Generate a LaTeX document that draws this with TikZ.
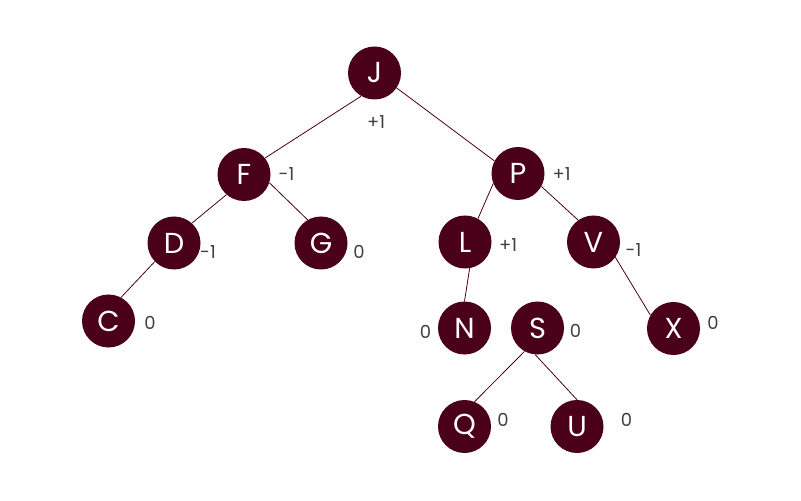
\documentclass[tikz,border=0pt]{standalone}
\usepackage{fontspec}
\setmainfont{Poppins}
\definecolor{maroon}{HTML}{4A0018}
\begin{document}
\begin{tikzpicture}[x=1bp,y=-1bp,
  vertex/.style={circle,fill=maroon,text=white,minimum size=53bp,inner sep=0pt,font=\fontsize{29}{29}\selectfont},
  edge/.style={maroon,line width=0.8bp},
  bal/.style={font=\fontsize{18}{18}\selectfont,text=black!75}]
\useasboundingbox (0,0) rectangle (801,501);
\node[vertex] (J) at (374.5,73) {J};
\node[vertex] (F) at (244,174.5) {F};
\node[vertex] (P) at (518,173.5) {P};
\node[vertex] (D) at (174,243) {D};
\node[vertex] (G) at (321,243) {G};
\node[vertex] (L) at (465,242) {L};
\node[vertex] (V) at (593.5,242) {V};
\node[vertex] (C) at (108.5,321) {C};
\node[vertex] (N) at (464.5,328) {N};
\node[vertex] (S) at (537.5,328) {S};
\node[vertex] (X) at (673.5,328.5) {X};
\node[vertex] (Q) at (464.5,426.5) {Q};
\node[vertex] (U) at (577,426.5) {U};
\draw [edge] (J.-120) -- (F.38);
\draw [edge] (J.-34) -- (P.152);
\draw [edge] (F.-131) -- (D.48);
\draw [edge] (F.-18) -- (G.120);
\draw [edge] (D.-136) -- (C.62);
\draw [edge] (P.-158) -- (L.61);
\draw [edge] (P.-29) -- (V.125);
\draw [edge] (L.-80) -- (N.north);
\draw [edge] (V.-35) -- (X.150);
\draw [edge] (S.-119) -- (Q.68);
\draw [edge] (S.-95) -- (U.north);
\node[bal] at (376,122) {+1};
\node[bal] at (286.5,174.5) {-1};
\node[bal] at (561.5,174.5) {+1};
\node[bal] at (208,252) {-1};
\node[bal] at (359,252) {0};
\node[bal] at (508,245) {+1};
\node[bal] at (633.5,250) {-1};
\node[bal] at (150,323) {0};
\node[bal] at (425.5,331.5) {0};
\node[bal] at (575.5,331) {0};
\node[bal] at (713,323) {0};
\node[bal] at (503,420) {0};
\node[bal] at (626.5,420) {0};
\end{tikzpicture}
\end{document}
